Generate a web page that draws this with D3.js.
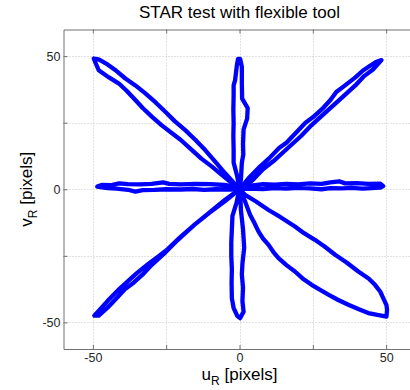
<!DOCTYPE html>
<html>
<head>
<meta charset="utf-8">
<script src="https://cdn.jsdelivr.net/npm/d3@7"></script>
<style>
  html, body { margin: 0; padding: 0; background: #fff; overflow: hidden; }
  svg { display: block; font-family: "Liberation Sans", Arial, sans-serif; }
</style>
</head>
<body>
<div id="chart"></div>
<script>
// axis ticks
const xTickValues = [-50, -25, 0, 25, 50];
const xTickLabels = ['-50', '', '0', '', '50'];
const yTickValues = [-50, -25, 0, 25, 50];
const yTickLabels = ['-50', '', '0', '', '50'];

// traced strokes of the star, [u, v] in pixels, each one out and back
const strokeEast = [[0,0],[3,0.2],[8,0.1],[12,0.4],[16,0.2],[20,0.5],[24,0.3],[28,0],[31,0.4],[35,0.3],[38,0.5],[42,0.2],[45,0.4],[48,0.6],[49,1.2],[48,2.1],[44,2.0],[40,2.3],[36,2.2],[34,3.0],[31,2.6],[28,2.0],[24,2.2],[20,1.8],[16,2.0],[12,1.7],[8,1.9],[4,1.4],[1,0.8],[0,0]];
const strokeWest = [[0,0],[-4,-0.1],[-8,0],[-12,-0.2],[-16,0.1],[-20,-0.1],[-25,0],[-29,-0.2],[-33,-0.3],[-35.5,-0.9],[-38,-0.2],[-42,0.2],[-45,0.4],[-48.5,1.0],[-47,1.6],[-44,1.5],[-41,2.2],[-38,1.9],[-34,1.8],[-30,2.0],[-26,2.6],[-24,2.0],[-20,1.8],[-15,2.0],[-10,1.9],[-5,1.6],[-2,1.0],[0,0]];
const strokeNorth = [[0,0],[-0.8,5],[-2,10],[-2,15],[-2.1,20],[-2,25],[-2.1,30],[-2,35],[-2,39],[-1.5,41],[-0.9,46.5],[-0.5,49],[0.2,49],[0.8,46],[0.8,40],[0.9,34],[2.8,30.5],[2.6,26.5],[1.4,22.5],[1.2,17],[1.3,13],[0.8,10],[0.5,4],[0,0]];
const strokeSouth = [[0,0],[-1,-5],[-2.4,-10],[-2.6,-15],[-2.8,-20],[-2.8,-25],[-2.6,-30],[-2.7,-35],[-2.6,-41],[-2,-44.6],[-0.8,-47.5],[0.2,-48.4],[1.4,-46],[1,-42],[1.2,-37],[0.8,-32],[1.0,-28],[1.6,-22],[1.2,-15],[0.5,-8],[0.3,-3],[0,0]];
const strokeNorthWest = [[0,0],[-4.5,4],[-9.4,8.5],[-13,11.5],[-16.2,14.7],[-20,18.5],[-23,21],[-26.5,24],[-29.8,27.2],[-33,30.5],[-35.5,33.5],[-38.5,37],[-41.1,39.7],[-44.5,42],[-48,44.7],[-49.7,49.1],[-48,48.8],[-45.6,47.3],[-42,44.5],[-38.9,41.6],[-35.5,39],[-32.1,36],[-28.5,32.5],[-25.3,29.1],[-22,25.5],[-18.5,22.2],[-15,18.5],[-11.7,14.7],[-8,10],[-4.9,6],[0,0]];
const strokeNorthEast = [[0,0],[2,1],[5,4],[8,7.5],[11.5,10.5],[15,14],[18,17],[21,20],[24.5,24],[27,26.5],[30,29.5],[33.5,33],[36.5,36],[39.5,39],[42.5,42.5],[45.5,45],[48.4,48.5],[46.5,47.8],[44,46],[42,44.5],[39.5,42],[36,39],[33,36.5],[31,33.5],[28.5,30.5],[25,27],[22.5,25],[19.5,21.5],[16,17.5],[13.5,15.5],[10,11.5],[6.5,8],[3,4],[0,0]];
const strokeSouthWest = [[0,0],[-5,-4],[-10,-8.5],[-15,-13],[-20,-17.8],[-25,-23],[-28,-25.5],[-31,-28],[-35,-31.5],[-38,-34.5],[-41,-37.5],[-45,-42],[-49.5,-47.5],[-48,-47.5],[-45,-44.5],[-42,-41],[-39,-37.5],[-36,-35],[-33,-32],[-30,-28.5],[-26,-24.5],[-21,-19],[-15.5,-13.5],[-10.5,-9],[-5,-4.5],[0,0]];
const strokeSouthEast = [[0,0],[1.9,-2.1],[5.5,-4.5],[9.9,-7.8],[14,-10.5],[18.9,-14],[22,-16.5],[25.7,-19],[29,-21.5],[32.6,-24.6],[36.5,-27.5],[40.5,-30.9],[44,-33.5],[46.2,-35.9],[48,-38.5],[49,-40.9],[50.1,-43.5],[50.3,-45.3],[50.1,-47.8],[47,-47.2],[43.9,-46.5],[40.5,-45],[37.1,-43.4],[33.5,-41.5],[30.3,-39.6],[27.5,-37.8],[24.6,-35.9],[21.5,-33.5],[18.9,-30.9],[16,-28.5],[13.3,-25.9],[11.5,-23.5],[9.9,-20.9],[8,-18.5],[6.5,-15.9],[5,-12.5],[3.6,-9.6],[1.9,-4.6],[0,0]];

const strokes = [strokeEast, strokeWest, strokeNorth, strokeSouth,
                 strokeNorthWest, strokeNorthEast, strokeSouthWest, strokeSouthEast];

const W = 410, H = 390;
const plotLeft = 63.5, plotTop = 29.5, plotRight = 415.5, plotBottom = 349;

const x = d3.scaleLinear().domain([-60, 60]).range([plotLeft, plotRight]);
const y = d3.scaleLinear().domain([-60, 60]).range([plotBottom, plotTop]);

const svg = d3.select('#chart').append('svg')
    .attr('width', W)
    .attr('height', H);

// dotted grid
const grid = svg.append('g');
grid.selectAll('.gx').data(xTickValues).join('line')
    .attr('x1', d => Math.round(x(d)) + 0.5).attr('x2', d => Math.round(x(d)) + 0.5)
    .attr('y1', plotTop).attr('y2', plotBottom)
    .attr('stroke', '#c4c4c4').attr('stroke-dasharray', '1,2');
grid.selectAll('.gy').data(yTickValues).join('line')
    .attr('y1', d => Math.round(y(d)) + 0.5).attr('y2', d => Math.round(y(d)) + 0.5)
    .attr('x1', plotLeft).attr('x2', plotRight)
    .attr('stroke', '#c4c4c4').attr('stroke-dasharray', '1,2');

// axes, ticks inside like matlab
const xAxis = d3.axisBottom(x).tickValues(xTickValues)
    .tickFormat((d, i) => xTickLabels[i]).tickSizeInner(-4).tickSizeOuter(0).tickPadding(4);
const yAxis = d3.axisLeft(y).tickValues(yTickValues)
    .tickFormat((d, i) => yTickLabels[i]).tickSizeInner(-4).tickSizeOuter(0).tickPadding(3);
const xAxisTop = d3.axisTop(x).tickValues(xTickValues)
    .tickFormat('').tickSizeInner(-4).tickSizeOuter(0);

const gx = svg.append('g').attr('transform', `translate(0,${plotBottom})`).call(xAxis);
const gy = svg.append('g').attr('transform', `translate(${plotLeft},0)`).call(yAxis);
const gt = svg.append('g').attr('transform', `translate(0,${plotTop})`).call(xAxisTop);

[gx, gy, gt].forEach(g => {
    g.select('.domain').attr('stroke', '#707070');
    g.selectAll('.tick line').attr('stroke', '#707070');
    g.selectAll('.tick text')
        .attr('fill', '#262626')
        .style('font-size', '12.5px')
        .style('font-family', '"Liberation Sans", Arial, sans-serif');
});

// star strokes
const line = d3.line().x(d => x(d[0])).y(d => y(d[1]));
svg.append('g').selectAll('path').data(strokes).join('path')
    .attr('d', line)
    .attr('fill', 'none')
    .attr('stroke', '#0000ff')
    .attr('stroke-width', 4.3)
    .attr('stroke-linejoin', 'round')
    .attr('stroke-linecap', 'round');

// title
svg.append('text')
    .attr('x', (plotLeft + plotRight) / 2)
    .attr('y', 18)
    .attr('text-anchor', 'middle')
    .style('font-size', '17px')
    .text('STAR test with flexible tool');

// x label with subscript
const xl = svg.append('text')
    .attr('x', (plotLeft + plotRight) / 2)
    .attr('y', 380)
    .attr('text-anchor', 'middle')
    .style('font-size', '17px');
xl.append('tspan').text('u');
xl.append('tspan').attr('dy', 5).style('font-size', '12px').text('R');
xl.append('tspan').attr('dy', -5).text(' [pixels]');

// y label
const yl = svg.append('text')
    .attr('transform', `translate(32,${(plotTop + plotBottom) / 2}) rotate(-90)`)
    .attr('text-anchor', 'middle')
    .style('font-size', '17px');
yl.append('tspan').text('v');
yl.append('tspan').attr('dy', 5).style('font-size', '12px').text('R');
yl.append('tspan').attr('dy', -5).text(' [pixels]');
</script>
</body>
</html>
